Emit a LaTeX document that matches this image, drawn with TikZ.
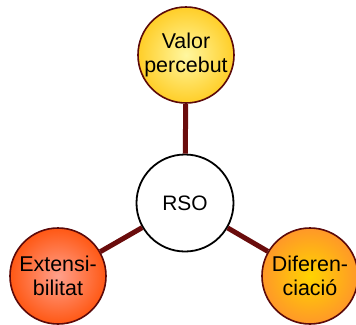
\documentclass[tikz,border=0pt]{standalone}
\usepackage{fontspec}
\setmainfont{Liberation Sans}
\definecolor{rim}{HTML}{5C0A0A}
\definecolor{spoke}{HTML}{6A0C0C}
\begin{document}
\begin{tikzpicture}[x=1bp,y=-1bp,
  bubble/.style={circle,minimum size=96bp,inner sep=0pt,line width=1.6bp,
    draw=rim,align=center,font=\fontsize{21.5}{23.5}\selectfont},
  hub/.style={circle,minimum size=97bp,inner sep=0pt,line width=1.8bp,
    draw=black,fill=white,font=\fontsize{21}{23.5}\selectfont},
  spokeline/.style={line width=5bp,draw=spoke}]
\useasboundingbox (0,0) rectangle (356,325);
% centre hub and the three surrounding bubbles
\node[hub] (rso) at (185,203) {RSO};
\node[bubble,inner color={rgb,255:red,255;green,247;blue,160},outer color={rgb,255:red,255;green,206;blue,40}] (valor) at (186,55) {Valor\\percebut};
\node[bubble,inner color={rgb,255:red,255;green,160;blue,140},outer color={rgb,255:red,255;green,88;blue,20}] (ext) at (58,276) {Extensi-\\bilitat};
\node[bubble,inner color={rgb,255:red,255;green,212;blue,0},outer color={rgb,255:red,255;green,152;blue,40}] (dif) at (310,276) {Diferen-\\ciació};
% spokes joining the hub to each bubble
\draw[spokeline] (valor) -- (rso);
\draw[spokeline] (rso) -- (ext);
\draw[spokeline] (rso) -- (dif);
\end{tikzpicture}
\end{document}
